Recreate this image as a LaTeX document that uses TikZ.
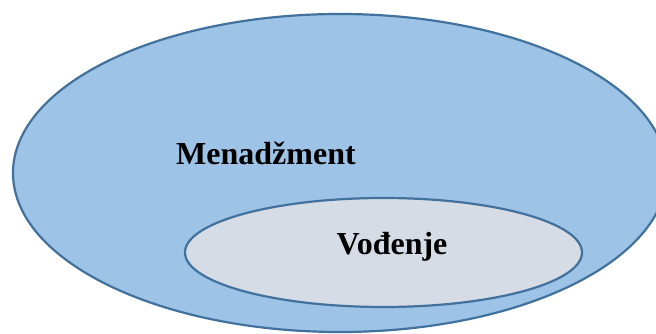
\documentclass[tikz,border=0pt]{standalone}
\usepackage{fontspec}
\setmainfont{Liberation Serif}
\definecolor{outerfill}{RGB}{157,195,230}
\definecolor{innerfill}{RGB}{214,220,229}
\definecolor{edge}{RGB}{65,113,156}
\begin{document}
\begin{tikzpicture}[x=1pt,y=1pt,
  setbox/.style={draw=edge,line width=2.2pt},
  label/.style={font=\fontsize{32}{36}\selectfont\bfseries,anchor=base,inner sep=0pt}]
\useasboundingbox (0,0) rectangle (656,334);
\clip (0,0) rectangle (656,334);
\path[setbox,fill=outerfill] (340,161) ellipse [x radius=327, y radius=159];
\path[setbox,fill=innerfill] (383.5,81.5) ellipse [x radius=198.5, y radius=54.5];
\node[label] (man) at (266,169) {Menadžment};
\node[label] (vod) at (392,79) {Vođenje};
\end{tikzpicture}
\end{document}
